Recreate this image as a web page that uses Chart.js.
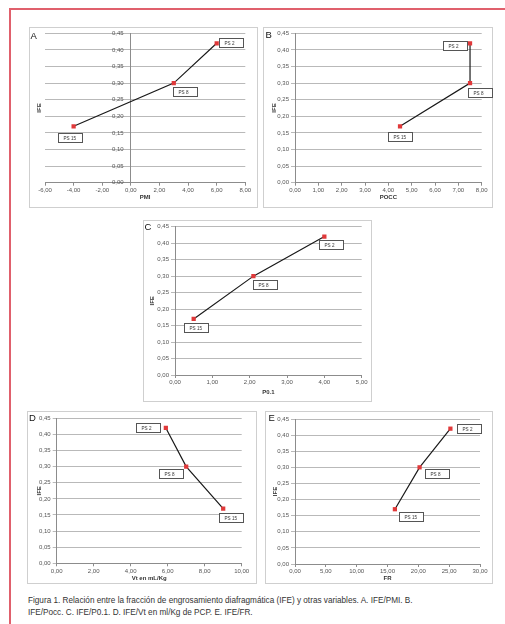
<!DOCTYPE html>
<html>
<head>
<meta charset="utf-8">
<script src="https://cdn.jsdelivr.net/npm/chart.js@4/dist/chart.umd.min.js"></script>
<style>
  html, body { margin: 0; padding: 0; background: #fff; width: 505px; height: 624px; overflow: hidden; }
  #page { position: relative; width: 505px; height: 624px; }
  .frame-top { position: absolute; left: 9px; top: 8px; right: 0; height: 2px; background: #e0606c; }
  .frame-left { position: absolute; left: 9px; top: 8px; width: 2px; bottom: 0; background: #e0606c; }
  .panel { position: absolute; border: 1px solid #cfcfcf; box-sizing: border-box; }
  canvas { position: absolute; }
  .letter { position: absolute; font: 9.5px "Liberation Sans", Arial, sans-serif; color: #111; line-height: 10px; }
  .caption { position: absolute; left: 28px; top: 595px; font: 8.2px "Liberation Sans", Arial, sans-serif; color: #333; line-height: 12px; white-space: nowrap; }
</style>
</head>
<body>
<div id="page">
  <div class="frame-top"></div>
  <div class="frame-left"></div>
  <div class="caption">Figura 1. Relación entre la fracción de engrosamiento diafragmática (IFE) y otras variables. A. IFE/PMI. B.<br>IFE/Pocc. C. IFE/P0.1. D. IFE/Vt en ml/Kg de PCP. E. IFE/FR.</div>
</div>
<script>
// Ventilation levels (pressure support) shared by every panel
const pointNames = ['PS 15', 'PS 8', 'PS 2'];
// Diaphragm thickening fraction (IFE) at each level
const ife = [0.17, 0.30, 0.42];
// Explanatory variables, one per panel
const pmi = [-4, 3, 6];
const pocc = [4.5, 7.5, 7.5];
const p01 = [0.5, 2.1, 4.0];
const vtMlKg = [9.0, 7.0, 5.9];
const fr = [16.2, 20.2, 25.2];
// Axis ranges: [min, max, step]
const ifeRange = [0, 0.45, 0.05];
const pmiRange = [-6, 8, 2];
const poccRange = [0, 8, 1];
const p01Range = [0, 5, 1];
const vtRange = [0, 10, 2];
const frRange = [0, 30, 5];

const fmt = v => Number(v).toFixed(2).replace('.', ',');
const FONT = '"Liberation Sans", Arial, sans-serif';
const TITLE_SIZE = 6;
const tickFont = { size: 6, family: FONT };
const titleFont = { size: TITLE_SIZE, weight: 'bold', family: FONT, lineHeight: 1 };

// Draws the boxed "PS n" callouts next to each point
const labelBoxes = {
  id: 'labelBoxes',
  afterDatasetsDraw(chart, args, opts) {
    const meta = chart.getDatasetMeta(0);
    const ctx = chart.ctx;
    ctx.save();
    ctx.font = '4.6px ' + FONT;
    ctx.textBaseline = 'middle';
    meta.data.forEach((pt, i) => {
      const [dx, dy] = opts.offsets[i];
      const w = 24, h = 9;
      const x = Math.round(pt.x + dx) + 0.5;
      const y = Math.round(pt.y + dy) + 0.5;
      ctx.fillStyle = '#fff';
      ctx.fillRect(x, y, w, h);
      ctx.strokeStyle = '#555';
      ctx.lineWidth = 1;
      ctx.strokeRect(x, y, w, h);
      ctx.fillStyle = '#333';
      ctx.fillText(chart.data.labels[i], x + 5, y + h / 2 + 0.5);
    });
    ctx.restore();
  }
};

// Page layout of each panel: frame box, plot area, title and callout placement
const panels = [
  { letter: 'A', xs: pmi, range: pmiRange, title: 'PMI', box: [29, 27, 229, 181], area: [45, 33.3, 245.3, 182.7],
    yAtZero: true, xTitleY: 197.3, yTitleX: 39, letterPos: [30.5, 31],
    offsets: [[-15.6, 6.7], [-1, 4], [2, -5]] },
  { letter: 'B', xs: pocc, range: poccRange, title: 'POCC', box: [263, 27, 230, 181], area: [295, 33.3, 481.7, 182.7],
    yAtZero: false, xTitleY: 197.5, yTitleX: 274, letterPos: [265.5, 30],
    offsets: [[-12, 6], [-2, 5], [-27, -2]] },
  { letter: 'C', xs: p01, range: p01Range, title: 'P0.1', box: [143, 220, 229, 182], area: [175, 226.7, 361.7, 375],
    yAtZero: false, xTitleY: 392, yTitleX: 152, letterPos: [144.5, 222],
    offsets: [[-10, 4], [0, 4], [-5, 3.5]] },
  { letter: 'D', xs: vtMlKg, range: vtRange, title: 'Vt en mL/Kg', box: [27, 411, 230, 173], area: [56.7, 418.3, 241.7, 563.3],
    yAtZero: false, xTitleY: 578, yTitleX: 39, letterPos: [29, 413],
    offsets: [[-4, 4.5], [-27, 2.5], [-30, -5]] },
  { letter: 'E', xs: fr, range: frRange, title: 'FR', box: [265, 411, 228, 173], area: [295, 419, 480, 564],
    yAtZero: false, xTitleY: 578, yTitleX: 275, letterPos: [268.5, 413],
    offsets: [[4, 3], [5, 2], [6.6, -4.5]] }
];

const page = document.getElementById('page');

panels.forEach(p => {
  const [bx, by, bw, bh] = p.box;
  const [al, at, ar, ab] = p.area;

  const frame = document.createElement('div');
  frame.className = 'panel';
  Object.assign(frame.style, { left: bx + 'px', top: by + 'px', width: bw + 'px', height: bh + 'px' });
  page.appendChild(frame);

  const canvas = document.createElement('canvas');
  canvas.width = bw; canvas.height = bh;
  Object.assign(canvas.style, { left: bx + 'px', top: by + 'px', width: bw + 'px', height: bh + 'px' });
  page.appendChild(canvas);

  const letter = document.createElement('div');
  letter.className = 'letter';
  letter.textContent = p.letter;
  Object.assign(letter.style, { left: p.letterPos[0] + 'px', top: p.letterPos[1] + 'px' });
  page.appendChild(letter);

  const [xMin, xMax, xStep] = p.range;
  const T = at - by, R = ar - bx, B = ab - by;
  const xAxisH = p.xTitleY - ab + TITLE_SIZE / 2;
  // Left axis box spans from the title centre line to the plot area
  const leftPad = p.yTitleX - TITLE_SIZE / 2 - bx;
  const yAxisW = al - bx - leftPad;

  const scales = {
    x: {
      type: 'linear', min: xMin, max: xMax,
      ticks: { stepSize: xStep, callback: fmt, font: tickFont, color: '#555', padding: 1, maxRotation: 0, autoSkip: false },
      grid: { drawOnChartArea: false, drawTicks: true, tickLength: 3, color: '#8c8c8c' },
      border: { color: '#8c8c8c' },
      title: { display: true, text: p.title, font: titleFont, padding: 0, color: '#333' },
      afterFit(s) { s.height = xAxisH; s.paddingLeft = 0; s.paddingRight = 0; }
    }
  };

  if (p.yAtZero) {
    // Value axis crossing at x = 0; a separate left axis carries only the title
    scales.y = {
      type: 'linear', position: { x: 0 }, min: ifeRange[0], max: ifeRange[1],
      ticks: { stepSize: ifeRange[2], callback: v => fmt(v) + '\u2002\u2002\u2009', font: tickFont, color: '#555' },
      grid: { color: '#b9b9b9', tickLength: 4 },
      border: { color: '#8c8c8c' },
      title: { display: false },
      afterFit(s) { s.paddingTop = 0; s.paddingBottom = 0; }
    };
    scales.yTitle = {
      type: 'linear', position: 'left', min: ifeRange[0], max: ifeRange[1],
      ticks: { display: false },
      grid: { display: false, drawTicks: false },
      border: { display: false },
      title: { display: true, text: 'IFE', font: titleFont, padding: 0, color: '#333' },
      afterFit(s) { s.width = yAxisW; s.paddingTop = 0; s.paddingBottom = 0; }
    };
  } else {
    scales.y = {
      type: 'linear', position: 'left', min: ifeRange[0], max: ifeRange[1],
      ticks: { stepSize: ifeRange[2], callback: fmt, font: tickFont, color: '#555', padding: 2 },
      grid: { color: '#b9b9b9', tickLength: 4 },
      border: { color: '#8c8c8c' },
      title: { display: true, text: 'IFE', font: titleFont, padding: 0, color: '#333' },
      afterFit(s) { s.width = yAxisW; s.paddingTop = 0; s.paddingBottom = 0; }
    };
  }

  new Chart(canvas, {
    type: 'scatter',
    data: {
      labels: pointNames,
      datasets: [{
        data: p.xs.map((v, i) => ({ x: v, y: ife[i] })),
        showLine: true,
        borderColor: '#1a1a1a',
        borderWidth: 1.2,
        pointStyle: 'rect',
        pointRadius: 3,
        pointBackgroundColor: '#e0393a',
        pointBorderColor: '#e0393a',
        pointBorderWidth: 0
      }]
    },
    options: {
      responsive: false,
      animation: false,
      devicePixelRatio: 1,
      layout: { padding: { left: leftPad, top: T, right: bw - R, bottom: bh - B - xAxisH } },
      plugins: {
        legend: { display: false },
        tooltip: { enabled: false },
        labelBoxes: { offsets: p.offsets }
      },
      scales
    },
    plugins: [labelBoxes]
  });
});
</script>
</body>
</html>
